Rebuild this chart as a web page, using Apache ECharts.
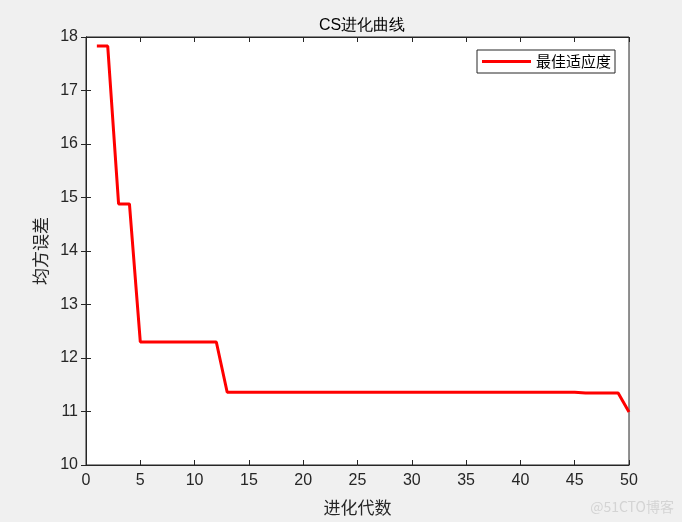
<!DOCTYPE html>
<html><head><meta charset="utf-8">
<script src="https://cdn.jsdelivr.net/npm/echarts@6/dist/echarts.min.js"></script>
<style>html,body{margin:0;padding:0;background:#f0f0f0;}#c{width:682px;height:522px;}</style>
</head><body><div id="c"></div>
<script>
const generations = Array.from({length: 50}, (_, i) => i + 1);
const bestFitness = [
  17.83, 17.83, 14.88, 14.88, 12.30, 12.30, 12.30, 12.30, 12.30, 12.30,
  12.30, 12.30, 11.36, 11.36, 11.36, 11.36, 11.36, 11.36, 11.36, 11.36,
  11.36, 11.36, 11.36, 11.36, 11.36, 11.36, 11.36, 11.36, 11.36, 11.36,
  11.36, 11.36, 11.36, 11.36, 11.36, 11.36, 11.36, 11.36, 11.36, 11.36,
  11.36, 11.36, 11.36, 11.36, 11.36, 11.345, 11.345, 11.345, 11.345, 10.99
];
const xTicks = [0, 50, 5];
const yTicks = [10, 18, 1];
const seriesName = '最佳适应度';
const titleText = 'CS进化曲线';
const xName = '进化代数';
const yName = '均方误差';
const watermark = '@51CTO博客';

const axisColor = '#262626';
const font = 'Liberation Sans, Arial, sans-serif';
const cjk = 'Noto Sans CJK SC, sans-serif';
const chart = echarts.init(document.getElementById('c'));
const baseAxis = {
  axisLine: {show: true, lineStyle: {color: axisColor, width: 1}},
  axisTick: {show: true, inside: true, length: 5, lineStyle: {color: axisColor}},
  splitLine: {show: false}
};
chart.setOption({
  backgroundColor: '#f0f0f0',
  animation: false,
  title: {
    text: titleText, left: 357, top: 13, textAlign: 'center',
    textStyle: {fontSize: 16, fontWeight: 'normal', color: '#000', fontFamily: font}
  },
  legend: {
    data: [{name: seriesName, icon: 'rect'}], left: 477, top: 50,
    backgroundColor: '#fff', borderColor: axisColor, borderWidth: 1,
    padding: [4, 4, 4, 5], itemWidth: 49, itemHeight: 3, itemGap: 6,
    textStyle: {fontSize: 15, color: '#000', fontFamily: cjk, padding: [0, 0, 0, 0]}
  },
  graphic: [{
    type: 'text', right: 8, bottom: 8,
    style: {text: watermark, fontSize: 14, fill: '#d4d4d4', fontFamily: cjk}
  }],
  grid: {left: 86, right: 53, top: 37, bottom: 57, show: true, backgroundColor: '#fff', borderColor: axisColor, borderWidth: 1},
  xAxis: [
    Object.assign({}, baseAxis, {
      type: 'value', min: xTicks[0], max: xTicks[1], interval: xTicks[2], position: 'bottom',
      name: xName, nameLocation: 'middle', nameGap: 34,
      nameTextStyle: {fontSize: 17, color: '#262626', fontFamily: cjk},
      axisLabel: {fontSize: 16, color: axisColor, fontFamily: font, margin: 8}
    }),
    Object.assign({}, baseAxis, {
      type: 'value', min: xTicks[0], max: xTicks[1], interval: xTicks[2], position: 'top',
      axisLabel: {show: false}
    })
  ],
  yAxis: [
    Object.assign({}, baseAxis, {
      type: 'value', min: yTicks[0], max: yTicks[1], interval: yTicks[2], position: 'left',
      name: yName, nameLocation: 'middle', nameGap: 30,
      nameTextStyle: {fontSize: 17, color: '#262626', fontFamily: cjk},
      axisLabel: {fontSize: 16, color: axisColor, fontFamily: font, margin: 8}
    }),
    Object.assign({}, baseAxis, {
      type: 'value', min: yTicks[0], max: yTicks[1], interval: yTicks[2], position: 'right',
      axisLabel: {show: false}
    })
  ],
  series: [{
    name: seriesName, type: 'line', symbol: 'none',
    data: generations.map((g, i) => [g, bestFitness[i]]),
    lineStyle: {color: '#ff0000', width: 3}, itemStyle: {color: '#ff0000'}
  }]
});
</script></body></html>
